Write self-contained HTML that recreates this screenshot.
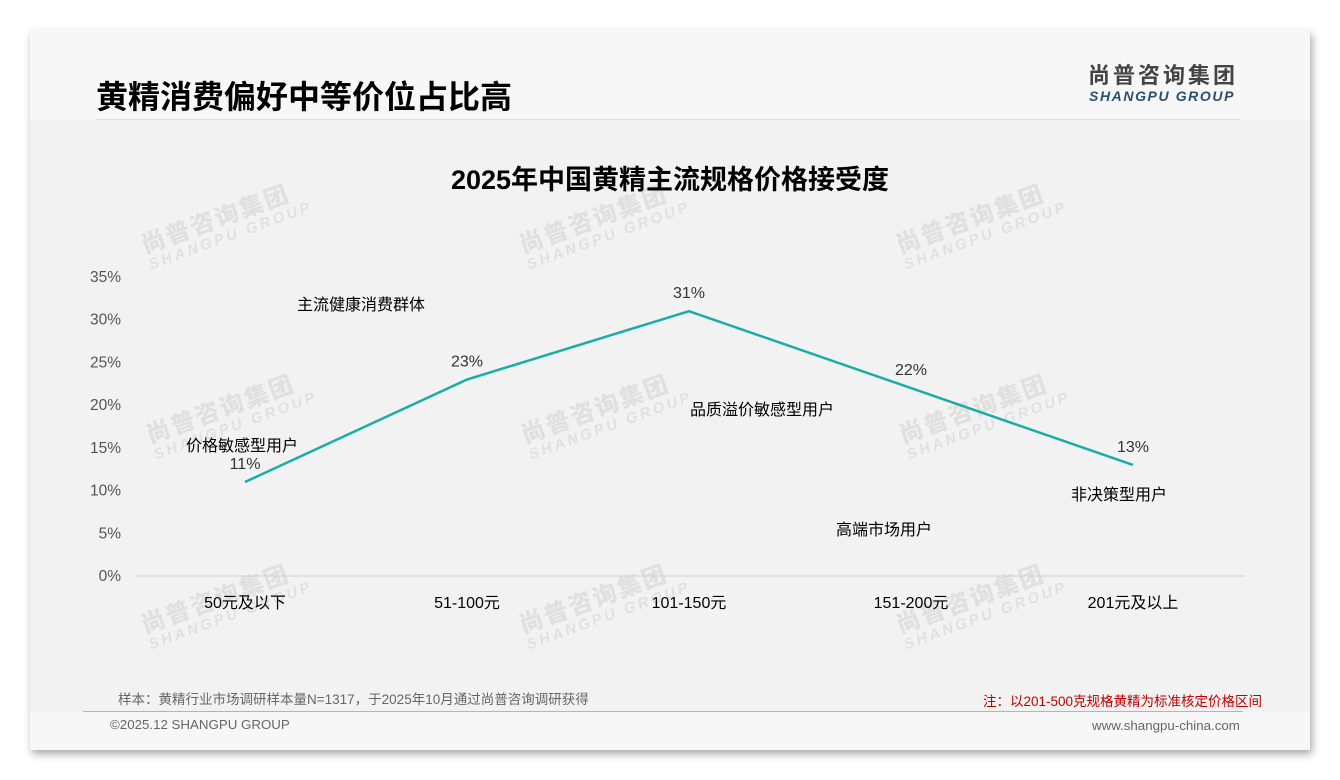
<!DOCTYPE html>
<html><head><meta charset="utf-8">
<style>
body{margin:0;width:1340px;height:780px;background:#fff;position:relative;overflow:hidden;font-family:"Liberation Sans","Noto Sans CJK SC",sans-serif;}
#card{position:absolute;left:30px;top:30px;width:1280px;height:720px;background:#f7f7f7;box-shadow:2px 4px 8px rgba(0,0,0,0.35);}
#plotbg{position:absolute;left:30px;top:120px;width:1280px;height:592px;background:#f2f2f2;}
.abs{position:absolute;white-space:nowrap;}
.wm{position:absolute;color:rgba(0,0,0,0.07);transform:rotate(-20deg);font-weight:bold;line-height:1;}
.wm b{display:block;font-size:24px;letter-spacing:2px}
.wm i{display:block;font-size:15px;letter-spacing:3px;font-style:italic}
</style></head><body>
<div id="card"></div>
<div id="plotbg"></div>
<div class="abs" style="left:96px;top:72px;font-size:32px;font-weight:bold;color:#000;">黄精消费偏好中等价位占比高</div>
<div class="abs" style="left:96px;top:119px;width:1144px;height:1px;background:#ddd;"></div>
<div class="abs" style="left:1088px;top:65px;font-size:22px;line-height:22px;font-weight:bold;color:#444;letter-spacing:3px;">尚普咨询集团</div>
<div class="abs" style="left:1089px;top:88px;font-size:14px;line-height:16px;font-weight:bold;font-style:italic;color:#2b4f72;letter-spacing:1.6px;">SHANGPU GROUP</div>
<div class="abs" style="left:0;width:1340px;text-align:center;top:158px;font-size:27px;font-weight:bold;color:#000;">2025年中国黄精主流规格价格接受度</div>

<div class="wm" style="left:140px;top:205px"><b>尚普咨询集团</b><i>SHANGPU GROUP</i></div>
<div class="wm" style="left:518px;top:205px"><b>尚普咨询集团</b><i>SHANGPU GROUP</i></div>
<div class="wm" style="left:895px;top:205px"><b>尚普咨询集团</b><i>SHANGPU GROUP</i></div>
<div class="wm" style="left:145px;top:395px"><b>尚普咨询集团</b><i>SHANGPU GROUP</i></div>
<div class="wm" style="left:520px;top:395px"><b>尚普咨询集团</b><i>SHANGPU GROUP</i></div>
<div class="wm" style="left:898px;top:395px"><b>尚普咨询集团</b><i>SHANGPU GROUP</i></div>
<div class="wm" style="left:140px;top:585px"><b>尚普咨询集团</b><i>SHANGPU GROUP</i></div>
<div class="wm" style="left:518px;top:585px"><b>尚普咨询集团</b><i>SHANGPU GROUP</i></div>
<div class="wm" style="left:895px;top:585px"><b>尚普咨询集团</b><i>SHANGPU GROUP</i></div>

<svg id="chart" width="1340" height="780" style="position:absolute;left:0;top:0"></svg>

<div class="abs" style="left:297px;top:291px;font-size:16px;">主流健康消费群体</div>
<div class="abs" style="left:186px;top:432px;font-size:16px;">价格敏感型用户</div>
<div class="abs" style="left:690px;top:396px;font-size:16px;">品质溢价敏感型用户</div>
<div class="abs" style="left:836px;top:516px;font-size:16px;">高端市场用户</div>
<div class="abs" style="left:1071px;top:481px;font-size:16px;">非决策型用户</div>

<div class="abs" style="left:118px;top:688px;font-size:13.5px;color:#666;">样本：黄精行业市场调研样本量N=1317，于2025年10月通过尚普咨询调研获得</div>
<div class="abs" style="left:983px;top:690px;font-size:13.5px;color:#c00000;">注：以201-500克规格黄精为标准核定价格区间</div>
<div class="abs" style="left:83px;top:711px;width:1160px;height:1px;background:#a9b7c6;"></div>
<div class="abs" style="left:110px;top:717px;font-size:13.3px;color:#666;">©2025.12 SHANGPU GROUP</div>
<div class="abs" style="left:1092px;top:718px;font-size:13.3px;color:#666;">www.shangpu-china.com</div>

<script>
const categories=["50元及以下","51-100元","101-150元","151-200元","201元及以上"];
const values=[11,23,31,22,13];
const yTicks=[0,5,10,15,20,25,30,35];
const NS="http://www.w3.org/2000/svg";
const svg=document.getElementById('chart');
const x0=245,dx=222,yBase=576,yTop=277,yMax=35;
const xs=i=>x0+i*dx;
const ys=v=>yBase-(v/yMax)*(yBase-yTop);
function mk(t,a){const e=document.createElementNS(NS,t);for(const k in a)e.setAttribute(k,a[k]);svg.appendChild(e);return e;}
const ax=mk('line',{x1:135,x2:1245,y1:yBase,y2:yBase,stroke:'#d0d0d0','stroke-width':1});


yTicks.forEach(t=>{const e=mk('text',{x:121,y:ys(t)+5,'text-anchor':'end','font-size':15.5,fill:'#555','font-family':'Liberation Sans, sans-serif'});e.textContent=t+'%';

});
categories.forEach((c,i)=>{const e=mk('text',{x:xs(i),y:yBase+32,'text-anchor':'middle','font-size':16,fill:'#000','font-family':'Liberation Sans, Noto Sans CJK SC, sans-serif'});e.textContent=c;

});
const p=mk('polyline',{points:values.map((v,i)=>xs(i)+','+ys(v)).join(' '),fill:'none',stroke:'#1aada5','stroke-width':2.5});


values.forEach((v,i)=>{const e=mk('text',{x:xs(i),y:ys(v)-13,'text-anchor':'middle','font-size':16,fill:'#333','font-family':'Liberation Sans, sans-serif'});e.textContent=v+'%';

});
</script>
</body></html>
